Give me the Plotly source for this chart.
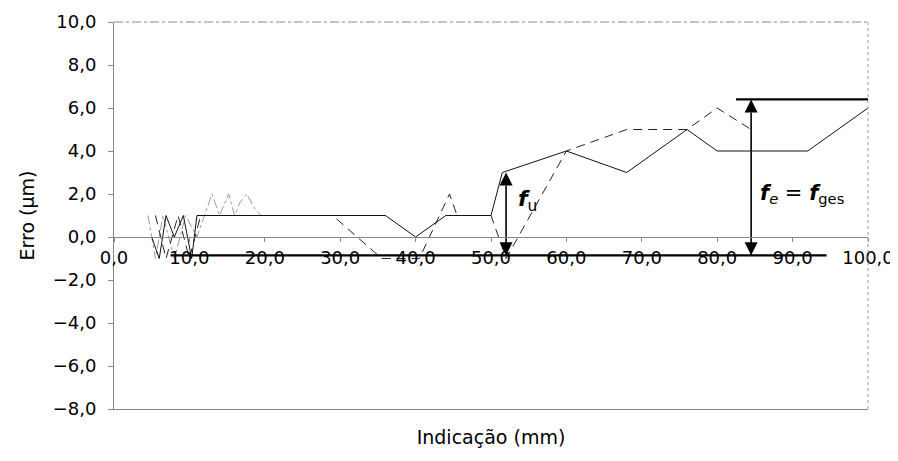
import plotly.graph_objects as go

# ---- data ----
solid_x = [5.0, 6.0, 6.9, 8.0, 9.2, 10.3, 11.0, 36.0, 40.0, 44.0, 50.0, 51.5, 60.0, 68.0, 76.0, 80.0, 92.0, 100.0]
solid_y = [0.0, -1.0, 1.0, 0.0, 1.0, -1.0, 1.0, 1.0, 0.0, 1.0, 1.0, 3.0, 4.0, 3.0, 5.0, 4.0, 4.0, 6.0]

dashed_x = [5.5, 6.9, 8.5, 10.0, 11.5, 29.0, 35.5, 38.0, 40.5, 44.5, 45.5, 50.0, 52.0, 60.0, 68.0, 76.0, 80.0, 84.5]
dashed_y = [1.0, -1.0, 1.0, -1.0, 1.0, 1.0, -1.0, -1.0, -1.0, 2.0, 1.0, 1.0, -1.0, 4.0, 5.0, 5.0, 6.0, 5.0]

gray_x = [4.5, 5.5, 6.5, 8.0, 9.5, 11.0, 12.0, 13.0, 14.0, 15.2, 16.0, 16.7, 17.6, 18.7, 19.5, 36.0]
gray_y = [1.0, -1.0, 1.0, -1.0, 1.0, 0.0, 1.0, 2.0, 1.0, 2.0, 1.0, 1.6, 2.0, 1.3, 1.0, 1.0]

x_ticks = [0, 10, 20, 30, 40, 50, 60, 70, 80, 90, 100]
y_ticks = [-8, -6, -4, -2, 0, 2, 4, 6, 8, 10]

# reference lines / arrows for the f_u and f_e annotation
base_level = -0.85
fu_pos, fu_top = 52.0, 3.0
fe_pos, fe_top = 84.5, 6.4
base_from, base_to = 7.5, 94.5
top_from, top_to = 82.5, 100.0

FONT = "DejaVu Sans, Liberation Sans, Arial, sans-serif"

fig = go.Figure()
fig.add_trace(go.Scatter(x=gray_x, y=gray_y, mode="lines", xaxis="x", yaxis="y",
                         line=dict(color="#9a9a9a", width=1, dash="dashdot"),
                         showlegend=False, hoverinfo="skip"))
fig.add_trace(go.Scatter(x=dashed_x, y=dashed_y, mode="lines", xaxis="x2", yaxis="y",
                         line=dict(color="#222", width=1, dash="9px,6px"),
                         showlegend=False, hoverinfo="skip"))
fig.add_trace(go.Scatter(x=solid_x, y=solid_y, mode="lines", xaxis="x2", yaxis="y",
                         line=dict(color="#111", width=1), showlegend=False, hoverinfo="skip"))

# double-headed arrows (line + arrow-head markers)
for pos, top in [(fu_pos, fu_top), (fe_pos, fe_top)]:
    fig.add_trace(go.Scatter(x=[pos, pos], y=[base_level, top], mode="lines+markers",
                             xaxis="x", yaxis="y",
                             line=dict(color="black", width=1.6),
                             marker=dict(symbol=["arrow-down", "arrow-up"], size=13, color="black",
                                         line=dict(width=0)),
                             showlegend=False, hoverinfo="skip"))

shapes = [
    dict(type="line", xref="x", yref="y", x0=base_from, x1=base_to, y0=base_level, y1=base_level,
         line=dict(color="black", width=2.2)),
    dict(type="line", xref="x", yref="y", x0=top_from, x1=top_to, y0=fe_top, y1=fe_top,
         line=dict(color="black", width=2.2)),
    dict(type="line", xref="paper", yref="paper", x0=0, x1=1, y0=1, y1=1,
         line=dict(color="#888", width=1, dash="dashdot")),
    dict(type="line", xref="paper", yref="paper", x0=1, x1=1, y0=0, y1=1,
         line=dict(color="#999", width=1, dash="dot")),
]

annotations = [
    dict(x=54.8, y=1.7, xref="x", yref="y", showarrow=False,
         text="<b><i>f</i></b><sub>u</sub>", font=dict(family=FONT, size=22, color="black")),
    dict(x=91.2, y=2.0, xref="x", yref="y", showarrow=False,
         text="<b><i>f</i></b><sub><i>e</i></sub> = <b><i>f</i></b><sub>ges</sub>",
         font=dict(family=FONT, size=21, color="black")),
]

fig.update_layout(
    width=890, height=445,
    margin=dict(l=106, r=30, t=14, b=44),
    paper_bgcolor="white", plot_bgcolor="white",
    separators=",.",
    font=dict(family=FONT, size=18, color="black"),
    shapes=shapes, annotations=annotations,
    xaxis=dict(range=[0, 100], showgrid=False, zeroline=False, showline=True,
               linecolor="#888", linewidth=1, ticks="", showticklabels=False,
               automargin=False,
               title=dict(text="Indicação (mm)", standoff=21, font=dict(size=19)),
               fixedrange=True),
    xaxis2=dict(range=[0, 100], overlaying="x", anchor="free", position=8 / 18,
                side="bottom", showgrid=False, zeroline=False, showline=True,
                linecolor="#888", linewidth=1, tickmode="array", tickvals=x_ticks,
                tickformat=".1f", ticks="outside", ticklen=4, tickcolor="#888",
                ticklabeloverflow="allow",
                automargin=False, tickfont=dict(size=18)),
    yaxis=dict(range=[-8, 10], showgrid=False, zeroline=False, showline=True,
               linecolor="#888", linewidth=1, tickmode="array", tickvals=y_ticks,
               tickformat=".1f", ticks="outside", ticklen=5, tickcolor="#888",
               ticklabelstandoff=8, tickfont=dict(size=18), automargin=False,
               title=dict(text="Erro (µm)", standoff=13, font=dict(size=19))),
)

fig.write_html("out.html")
